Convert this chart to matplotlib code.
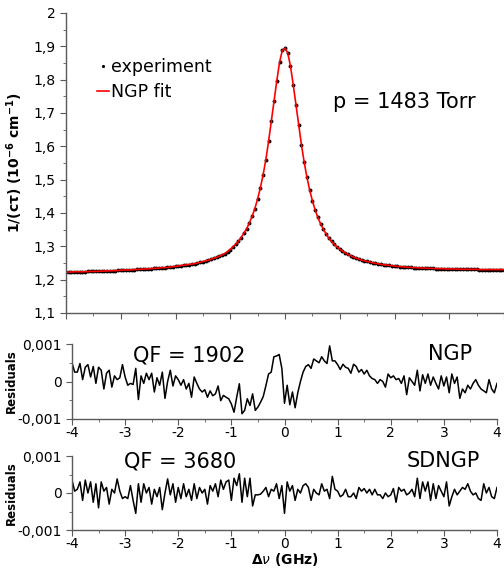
import numpy as np
import matplotlib
matplotlib.use('Agg')
import matplotlib.pyplot as plt
from matplotlib.ticker import FuncFormatter, MultipleLocator

plt.rcParams['font.family'] = ['DejaVu Sans']
plt.rcParams['mathtext.fontset'] = 'dejavusans'

# detuning grid, GHz (0.05 GHz steps, -4 ... 4)
detuning = np.round(np.linspace(-4, 4, 161), 2)

# 1/(c tau), 10^-6 cm^-1
experiment = [
    1.223, 1.223, 1.223, 1.224, 1.224, 1.224, 1.224, 1.224, 1.225, 1.225,
    1.225, 1.225, 1.225, 1.226, 1.226, 1.226, 1.227, 1.227, 1.227, 1.228,
    1.228, 1.229, 1.229, 1.229, 1.230, 1.230, 1.231, 1.231, 1.232, 1.232,
    1.233, 1.233, 1.234, 1.234, 1.235, 1.236, 1.236, 1.237, 1.238, 1.239,
    1.240, 1.241, 1.242, 1.243, 1.244, 1.245, 1.247, 1.248, 1.250, 1.252,
    1.254, 1.256, 1.258, 1.261, 1.264, 1.267, 1.270, 1.274, 1.278, 1.284,
    1.290, 1.298, 1.306, 1.315, 1.326, 1.339, 1.353, 1.370, 1.390, 1.413,
    1.442, 1.475, 1.514, 1.560, 1.615, 1.675, 1.735, 1.797, 1.852, 1.888,
    1.894,
    1.880, 1.840, 1.785, 1.725, 1.665, 1.605, 1.553, 1.508, 1.470, 1.437,
    1.410, 1.387, 1.368, 1.352, 1.338, 1.325, 1.315, 1.306, 1.299, 1.292,
    1.286, 1.281, 1.276, 1.272, 1.268, 1.265, 1.262, 1.259, 1.257, 1.255,
    1.253, 1.251, 1.249, 1.248, 1.246, 1.245, 1.244, 1.243, 1.242, 1.241,
    1.240, 1.239, 1.239, 1.238, 1.237, 1.237, 1.236, 1.236, 1.235, 1.235,
    1.235, 1.234, 1.234, 1.234, 1.233, 1.233, 1.233, 1.233, 1.232, 1.232,
    1.232, 1.232, 1.232, 1.231, 1.231, 1.231, 1.231, 1.231, 1.231, 1.231,
    1.230, 1.230, 1.230, 1.230, 1.230, 1.230, 1.230, 1.230, 1.230, 1.230,
]

# residuals in units of 1e-3
resid_ngp = [
    0.50, 0.25, 0.25, 0.48, 0.05, 0.38, 0.45, 0.12, 0.40, -0.05,
    0.38, 0.30, -0.20, 0.22, 0.30, -0.15, 0.15, 0.05, 0.10, 0.45,
    0.12, -0.10, -0.05, -0.08, 0.35, -0.48, 0.15, -0.05, 0.22, 0.05,
    0.22, -0.28, 0.10, -0.10, 0.25, -0.45, 0.00, 0.30, -0.12, 0.15,
    0.05, -0.10, 0.05, -0.20, -0.05, -0.42, 0.12, -0.05, -0.20, -0.28,
    -0.22, -0.42, -0.25, -0.38, -0.33, -0.12, -0.51, -0.37, -0.42, -0.46,
    -0.60, -0.82, -0.42, -0.06, -0.86, -0.77, -0.46, -0.64, -0.33, -0.77,
    -0.68, -0.55, -0.40, -0.11, 0.20, 0.25, 0.66, 0.68, 0.72, 0.35,
    -0.58,
    -0.10, -0.62, -0.28, -0.70, -0.30, 0.00, 0.25, 0.40, 0.45, 0.35,
    0.60, 0.55, 0.50, 0.66, 0.55, 0.48, 0.95, 0.55, 0.55, 0.45,
    0.32, 0.46, 0.38, 0.35, 0.22, 0.46, 0.40, 0.25, 0.32, 0.20,
    0.30, 0.15, 0.08, 0.05, -0.05, 0.05, 0.00, -0.15, 0.20, 0.10,
    0.15, 0.05, 0.08, -0.05, 0.15, -0.35, 0.10, 0.00, -0.10, 0.30,
    -0.25, 0.18, -0.05, 0.20, -0.10, 0.12, -0.05, -0.20, 0.15, -0.12,
    0.12, -0.30, 0.20, -0.05, 0.12, -0.45, -0.20, -0.30, -0.10, -0.20,
    -0.05, 0.05, -0.10, -0.20, -0.25, -0.30, 0.05, -0.20, -0.30, -0.05,
]

resid_sdngp = [
    0.35, 0.05, 0.10, 0.30, -0.20, 0.35, 0.00, 0.30, -0.25, 0.25,
    -0.40, 0.30, 0.05, 0.15, -0.30, 0.10, 0.00, 0.38, 0.05, -0.15,
    -0.10, -0.15, 0.20, -0.20, -0.55, 0.25, -0.25, 0.25, 0.00, 0.15,
    -0.30, 0.10, -0.10, 0.15, -0.45, 0.00, 0.38, -0.05, 0.25, -0.25,
    0.15, -0.15, 0.25, -0.10, 0.10, -0.20, 0.25, -0.15, 0.15, 0.00,
    0.10, -0.30, 0.20, 0.05, 0.25, -0.10, 0.35, 0.10, 0.30, 0.35,
    -0.20, 0.40, 0.20, 0.52, -0.25, 0.40, -0.10, 0.40, -0.35, -0.05,
    -0.05, -0.03, 0.05, 0.15, -0.10, 0.10, 0.05, 0.25, -0.15, 0.20,
    -0.55,
    0.30, 0.05, 0.20, -0.20, 0.10, 0.00, 0.20, 0.25, 0.15, -0.20,
    0.10, 0.00, -0.05, 0.25, 0.05, 0.10, -0.15, 0.45, 0.10, 0.05,
    -0.10, -0.05, 0.10, -0.10, -0.10, 0.00, -0.15, 0.15, 0.05, 0.12,
    0.00, 0.10, -0.05, 0.10, -0.05, -0.05, -0.15, 0.00, -0.10, -0.05,
    0.12, -0.25, 0.15, 0.05, 0.10, -0.05, 0.00, 0.10, -0.10, 0.40,
    -0.15, 0.30, 0.05, 0.30, -0.20, 0.25, -0.15, 0.20, 0.05, -0.10,
    0.30, -0.35, -0.10, 0.10, -0.05, 0.05, 0.15, 0.10, 0.25, 0.05,
    -0.05, 0.00, -0.15, -0.20, 0.25, 0.00, 0.15, -0.10, -0.15, 0.15,
]

experiment = np.array(experiment)
resid_ngp = np.array(resid_ngp) * 1e-3
resid_sdngp = np.array(resid_sdngp) * 1e-3
ngp_fit = experiment - resid_ngp   # residual = experiment - fit

spine_col = '#5a5a5a'

def comma(v, pos=None):
    if abs(v) < 1e-12:
        return '0'
    s = ('%.3f' % v).rstrip('0').rstrip('.')
    return s.replace('.', ',')

def style(ax):
    for s in ['top', 'right']:
        ax.spines[s].set_visible(False)
    for s in ['left', 'bottom']:
        ax.spines[s].set_color(spine_col)
        ax.spines[s].set_linewidth(1.0)
    ax.tick_params(which='both', direction='out', color=spine_col, labelsize=10)
    ax.tick_params(which='major', length=4)
    ax.tick_params(which='minor', length=2.5)
    ax.set_xlim(-4, 4)
    ax.xaxis.set_major_locator(MultipleLocator(1))
    ax.xaxis.set_minor_locator(MultipleLocator(0.5))

fig = plt.figure(figsize=(5.04, 5.69), dpi=100)
W, H = 504, 569

# main panel
ax = fig.add_axes([66 / W, 1 - 313 / H, 438 / W, 300 / H])
style(ax)
ax.plot(detuning, experiment, 'o', color='black', ms=2.8, mew=0, label='experiment')
ax.plot(detuning, ngp_fit, color='red', lw=1.2, label='NGP fit')
ax.set_ylim(1.1, 2.0)
ax.yaxis.set_major_locator(MultipleLocator(0.1))
ax.yaxis.set_minor_locator(MultipleLocator(0.05))
ax.yaxis.set_major_formatter(FuncFormatter(comma))
ax.set_xticklabels([])
ax.set_ylabel('1/(cτ) (10$^{\\mathbf{-6}}$ cm$^{\\mathbf{-1}}$)', fontsize=10,
              fontweight='bold', labelpad=6)
ax.legend(loc='upper left', bbox_to_anchor=(0.07, 0.85), frameon=False,
          fontsize=12.5, handlelength=0.7, handletextpad=0.15,
          labelspacing=0.42, borderpad=0, borderaxespad=0, numpoints=1,
          markerscale=0.8)
ax.text(0.61, 0.683, 'p = 1483 Torr', transform=ax.transAxes, fontsize=15,
        va='baseline', ha='left')

# residual panels
r1 = fig.add_axes([72 / W, 1 - 419 / H, 425 / W, 75 / H])
r2 = fig.add_axes([72 / W, 1 - 530 / H, 425 / W, 74 / H])
for r, res in [(r1, resid_ngp), (r2, resid_sdngp)]:
    style(r)
    r.plot(detuning, res, color='black', lw=1.1)
    r.set_ylim(-0.001, 0.001)
    r.yaxis.set_major_locator(MultipleLocator(0.001))
    r.yaxis.set_minor_locator(MultipleLocator(0.0005))
    r.yaxis.set_major_formatter(FuncFormatter(comma))
    r.xaxis.set_major_formatter(FuncFormatter(lambda v, p: '%d' % round(v)))
    r.tick_params(axis='x', pad=1)
    r.set_ylabel('Residuals', fontsize=8.5, fontweight='bold')
    r.yaxis.set_label_coords(-0.128, 0.5)

r1.text(0.144, 0.76, 'QF = 1902', transform=r1.transAxes, fontsize=15, va='baseline')
r1.text(0.838, 0.787, 'NGP', transform=r1.transAxes, fontsize=15, va='baseline')
r2.text(0.122, 0.851, 'QF = 3680', transform=r2.transAxes, fontsize=15, va='baseline')
r2.text(0.788, 0.855, 'SDNGP', transform=r2.transAxes, fontsize=15, va='baseline')

r2.set_xlabel('$\\mathbf{\\Delta}\\mathit{\\nu}$ (GHz)', fontsize=10, fontweight='bold',
              labelpad=0)

fig.savefig('out.png', dpi=100)
